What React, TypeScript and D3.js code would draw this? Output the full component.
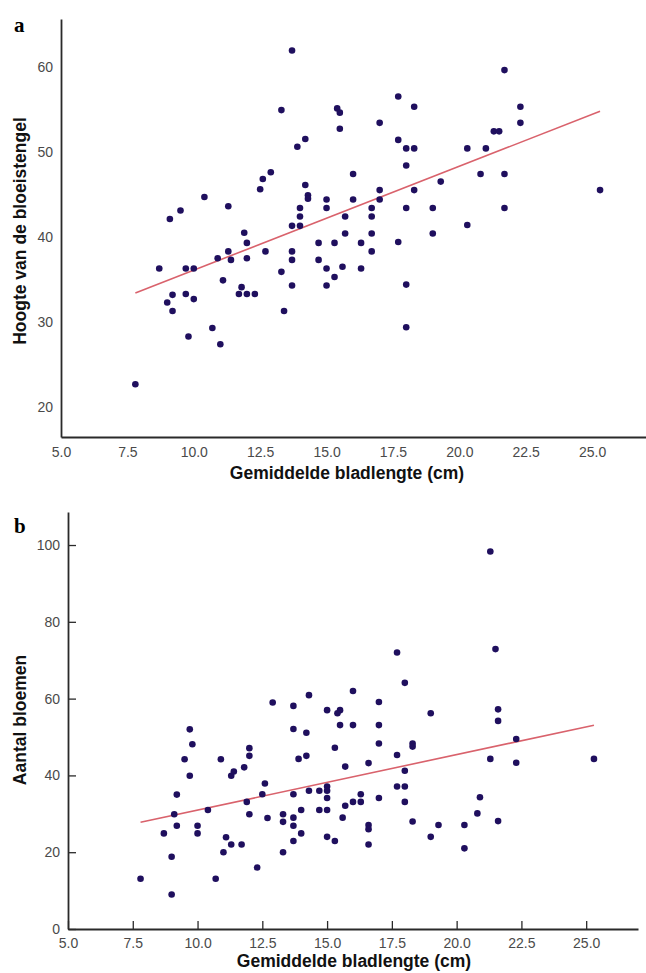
import React, { useRef, useEffect } from "react";
import { scaleLinear, axisBottom, axisLeft, select, format, line } from "d3";

// panel a: gemiddelde bladlengte (cm) vs hoogte van de bloeistengel
const leafLengthA = [
  7.8, 8.7, 9.0, 9.1, 9.2, 9.2, 9.5, 9.7, 9.7, 9.8, 10.0, 10.0, 10.4, 10.7, 10.9, 11.0, 11.1, 11.3, 11.3, 11.4,
  11.7, 11.8, 11.9, 12.0, 12.0, 12.0, 12.3, 12.5, 12.6, 12.7, 12.9, 13.3, 13.3, 13.4, 13.7, 13.7, 13.7, 13.7, 13.7, 13.9,
  14.0, 14.0, 14.0, 14.2, 14.2, 14.3, 14.3, 14.7, 14.7, 15.0, 15.0, 15.0, 15.0, 15.3, 15.3, 15.4, 15.5, 15.5, 15.7, 15.7,
  15.6, 16.0, 16.0, 16.3, 16.3, 16.7, 16.7, 16.7, 16.7, 17.0, 17.0, 17.0, 17.7, 17.7, 17.7, 18.0, 18.0, 18.0, 18.0, 18.0,
  18.3, 18.3, 18.3, 19.0, 19.0, 19.3, 20.3, 20.3, 20.8, 21.0, 21.3, 21.5, 21.7, 21.7, 21.7, 22.3, 22.3, 25.3,
];
const stemHeight = [
  22.7, 36.3, 32.3, 42.1, 33.2, 31.3, 43.1, 36.3, 33.3, 28.3, 36.3, 32.7, 44.7, 29.3, 37.5, 27.4, 34.9, 43.6, 38.3, 37.3,
  33.3, 34.1, 40.5, 37.5, 39.3, 33.3, 33.3, 45.6, 46.8, 38.3, 47.6, 35.9, 54.9, 31.3, 61.9, 41.3, 38.3, 37.3, 34.3, 50.6,
  43.4, 42.4, 41.3, 51.5, 46.1, 44.9, 44.5, 39.3, 37.3, 44.4, 43.4, 36.3, 34.3, 39.3, 35.3, 55.1, 54.6, 52.7, 42.4, 40.4,
  36.5, 47.4, 44.4, 39.3, 36.3, 43.4, 42.4, 40.4, 38.3, 53.4, 45.5, 44.4, 51.4, 39.4, 56.5, 50.4, 48.4, 43.4, 34.4, 29.4,
  55.3, 50.4, 45.5, 43.4, 40.4, 46.5, 50.4, 41.4, 47.4, 50.4, 52.4, 52.4, 59.6, 47.4, 43.4, 55.3, 53.4, 45.5,
];
// fitted line a
const fitA = { from: 7.8, to: 25.3, intercept: 23.9, slope: 1.22 };

// panel b: gemiddelde bladlengte (cm) vs aantal bloemen
const leafLengthB = [
  7.8, 8.7, 9.0, 9.0, 9.1, 9.2, 9.2, 9.5, 9.7, 9.7, 9.8, 10.0, 10.0, 10.4, 10.7, 10.9, 11.0, 11.1, 11.3, 11.4,
  11.3, 11.7, 11.8, 11.9, 12.0, 12.0, 12.0, 12.3, 12.5, 12.6, 12.7, 12.9, 13.3, 13.3, 13.3, 13.7, 13.7, 13.7, 13.7, 13.7,
  13.7, 13.9, 14.0, 14.0, 14.2, 14.2, 14.3, 14.3, 14.7, 14.7, 15.0, 15.0, 15.0, 15.0, 15.0, 15.0, 15.3, 15.3, 15.5, 15.4,
  15.5, 15.6, 15.7, 15.7, 16.0, 16.0, 16.0, 16.3, 16.3, 16.6, 16.6, 16.6, 16.6, 17.0, 17.0, 17.0, 17.0, 17.7, 17.7, 17.7,
  18.0, 18.0, 18.0, 18.0, 18.3, 18.3, 18.3, 19.0, 19.0, 19.3, 20.3, 20.3, 20.8, 20.9, 21.3, 21.3, 21.5, 21.6, 21.6, 21.6,
  22.3, 22.3, 25.3,
];
const flowerCount = [
  13.1, 24.9, 18.8, 9.0, 29.9, 26.9, 35.0, 44.2, 52.0, 39.9, 48.1, 26.9, 24.9, 31.0, 13.1, 44.2, 20.0, 23.9, 39.9, 41.0,
  22.0, 22.0, 42.1, 33.1, 29.9, 47.1, 45.1, 16.0, 35.1, 37.9, 28.9, 59.0, 29.9, 27.9, 20.0, 58.1, 52.1, 35.1, 29.0, 26.9,
  22.9, 44.3, 31.0, 24.9, 51.1, 45.1, 36.0, 60.9, 36.0, 31.0, 57.0, 37.1, 36.0, 34.1, 31.0, 24.0, 47.2, 22.9, 57.0, 56.2,
  53.1, 29.0, 42.3, 32.1, 62.0, 53.1, 33.1, 35.1, 33.1, 43.2, 27.1, 26.0, 22.0, 59.1, 53.1, 48.3, 34.1, 45.3, 37.1, 72.0,
  64.1, 41.2, 37.1, 33.1, 48.3, 47.5, 28.0, 56.2, 24.0, 27.1, 27.1, 21.0, 30.1, 34.3, 98.3, 44.3, 72.9, 57.2, 54.2, 28.1,
  49.5, 43.3, 44.3,
];
const fitB = { from: 7.8, to: 25.3, intercept: 16.5, slope: 1.446 };

const xTicks = [5.0, 7.5, 10.0, 12.5, 15.0, 17.5, 20.0, 22.5, 25.0];
const yTicksA = [20, 30, 40, 50, 60];
const yTicksB = [0, 20, 40, 60, 80, 100];

const DOT = "#1f0f5e";
const FIT = "#d9626c";
const FONT = "Arial, 'Liberation Sans', Helvetica, sans-serif";

function Axis(props: any) {
  const ref = useRef<SVGGElement>(null);
  useEffect(() => {
    const g = select(ref.current);
    g.selectAll("*").remove();
    g.call(props.axis);
    g.attr("font-size", 14).attr("font-family", FONT);
    g.select(".domain").attr("stroke", "#2a2a2a").attr("stroke-width", props.strokeWidth || 1.8);
    g.selectAll(".tick line").attr("stroke", "#2a2a2a").attr("stroke-width", 1.3);
    g.selectAll(".tick text").attr("fill", "#4a4a4a");
  });
  return <g ref={ref} transform={props.transform} />;
}

function Panel(props: any) {
  const { xs, ys, fit, x, y, xAxisY, yAxisX, yTicks, ticksIn, letter, letterY, yTitle, yTitleY, xTitleX, xTitleY } = props;
  const fitLine = line<number>()
    .x((d) => x(d))
    .y((d) => y(fit.intercept + fit.slope * d));
  const tick = ticksIn ? -8 : 0;
  return (
    <g>
      <Axis
        transform={`translate(0,${xAxisY})`}
        axis={axisBottom(x).tickValues(xTicks).tickFormat(format(".1f")).tickSizeInner(tick).tickSizeOuter(0).tickPadding(ticksIn ? 9 : 10)}
      />
      <Axis
        transform={`translate(${yAxisX},0)`}
        axis={axisLeft(y).tickValues(yTicks).tickFormat(format("d")).tickSizeInner(tick).tickSizeOuter(0).tickPadding(8)}
      />
      <path d={fitLine([fit.from, fit.to]) || ""} fill="none" stroke={FIT} strokeWidth={1.6} />
      {xs.map((d: number, i: number) => (
        <circle key={i} cx={x(d)} cy={y(ys[i])} r={3.3} fill={DOT} />
      ))}
      <text x={14} y={letterY} fontFamily="'Liberation Serif', 'DejaVu Serif', serif" fontWeight="bold" fontSize={21}>
        {letter}
      </text>
      <text
        transform={`translate(26,${yTitleY}) rotate(-90)`}
        textAnchor="middle"
        fontFamily={FONT}
        fontWeight="bold"
        fontSize={17.5}
        fill="#111"
      >
        {yTitle}
      </text>
      <text x={xTitleX} y={xTitleY} textAnchor="middle" fontFamily={FONT} fontWeight="bold" fontSize={17.5} fill="#111">
        Gemiddelde bladlengte (cm)
      </text>
    </g>
  );
}

export default function App() {
  const xA = scaleLinear().domain([5, 27.03]).range([61, 646]);
  const yA = scaleLinear().domain([16.5, 65.6]).range([437, 19]);
  const xB = scaleLinear().domain([5, 27.0]).range([68, 638]);
  const yB = scaleLinear().domain([0, 108.6]).range([929, 512]);

  return (
    <svg width={646} height={973} style={{ position: "absolute", left: 0, top: 0, background: "white" }}>
      <Panel
        xs={leafLengthA}
        ys={stemHeight}
        fit={fitA}
        x={xA}
        y={yA}
        xAxisY={437}
        yAxisX={61}
        yTicks={yTicksA}
        ticksIn={false}
        letter="a"
        letterY={32}
        yTitle="Hoogte van de bloeistengel"
        yTitleY={231}
        xTitleX={347}
        xTitleY={479}
      />
      <Panel
        xs={leafLengthB}
        ys={flowerCount}
        fit={fitB}
        x={xB}
        y={yB}
        xAxisY={929}
        yAxisX={68}
        yTicks={yTicksB}
        ticksIn={true}
        letter="b"
        letterY={533}
        yTitle="Aantal bloemen"
        yTitleY={720}
        xTitleX={354}
        xTitleY={967}
      />
    </svg>
  );
}
